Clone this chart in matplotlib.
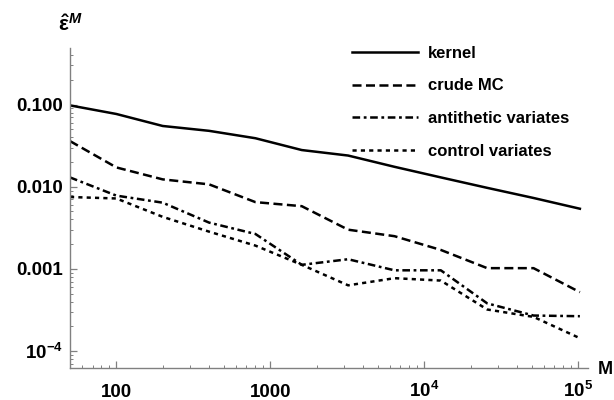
import matplotlib
matplotlib.use("Agg")
import matplotlib.pyplot as plt
import matplotlib.ticker as mticker
import numpy as np

plt.rcParams['font.family'] = ['Liberation Sans', 'DejaVu Sans']
plt.rcParams['font.weight'] = 'bold'
plt.rcParams['mathtext.fontset'] = 'custom'
plt.rcParams['mathtext.rm'] = 'Liberation Sans:bold'
plt.rcParams['mathtext.bf'] = 'Liberation Sans:bold'
plt.rcParams['mathtext.it'] = 'Liberation Sans:bold:italic'
plt.rcParams['lines.scale_dashes'] = False

# ---- data ----
M_values = [50, 100, 200, 400, 800, 1600, 3200, 6400, 12800, 25600, 51200, 102400]
kernel = [0.098, 0.077, 0.055, 0.048, 0.039, 0.028, 0.024, 0.0175, 0.013, 0.0097, 0.0073, 0.0054]
crude_mc = [0.036, 0.0172, 0.0123, 0.0107, 0.0065, 0.0058, 0.0030, 0.0025, 0.0017, 0.00102, 0.00102, 0.00052]
antithetic = [0.013, 0.0078, 0.0064, 0.00366, 0.00266, 0.00112, 0.00131, 0.00096, 0.00096, 0.00038, 0.00027, 0.000265]
control = [0.0075, 0.0072, 0.0043, 0.00284, 0.00192, 0.00112, 0.00063, 0.00077, 0.00072, 0.00032, 0.00026, 0.000143]
series_labels = ["kernel", "crude MC", "antithetic variates", "control variates"]
x_tick_vals = [100, 1000, 10000, 100000]
x_tick_labels = ["100", "1000", r"$\mathbf{10^{4}}$", r"$\mathbf{10^{5}}$"]
y_tick_vals = [1e-4, 1e-3, 1e-2, 1e-1]
y_tick_labels = [r"$\mathbf{10^{-4}}$", "0.001", "0.010", "0.100"]

fig = plt.figure(figsize=(6.14, 4.0), dpi=100)
ax = fig.add_axes([70/614, 1-368/400, (588-70)/614, (368-48)/400])

styles = [
    dict(linestyle='-'),
    dict(linestyle=(0, (6.5, 3.2))),
    dict(linestyle=(0, (5.5, 2.6, 2.0, 2.6))),
    dict(linestyle=(0, (3.0, 3.0))),
]
for ys, lab, st in zip([kernel, crude_mc, antithetic, control], series_labels, styles):
    ax.plot(M_values, ys, color='black', lw=1.8, label=lab, **st)

ax.set_xscale('log')
ax.set_yscale('log')
ax.set_xlim(50, 115600)
ax.set_ylim(6.2e-5, 0.49)

gray = '#808080'
for s in ['top', 'right']:
    ax.spines[s].set_visible(False)
for s in ['left', 'bottom']:
    ax.spines[s].set_color(gray)
    ax.spines[s].set_linewidth(1.0)

ax.xaxis.set_major_locator(mticker.FixedLocator(x_tick_vals))
ax.xaxis.set_major_formatter(mticker.FixedFormatter(x_tick_labels))
ax.xaxis.set_minor_locator(mticker.LogLocator(base=10, subs=np.arange(2, 10), numticks=20))
ax.xaxis.set_minor_formatter(mticker.NullFormatter())
ax.yaxis.set_major_locator(mticker.FixedLocator(y_tick_vals))
ax.yaxis.set_major_formatter(mticker.FixedFormatter(y_tick_labels))
ax.yaxis.set_minor_locator(mticker.LogLocator(base=10, subs=np.arange(2, 10), numticks=20))
ax.yaxis.set_minor_formatter(mticker.NullFormatter())

ax.tick_params(which='major', direction='in', length=5, width=0.9, color=gray, labelsize=13.5)
ax.tick_params(which='minor', direction='in', length=2.5, width=0.7, color=gray)
ax.tick_params(axis='y', which='major', pad=5)
ax.tick_params(axis='x', which='major', pad=21)
for lab in ax.get_xticklabels():
    lab.set_va('baseline')
    lab.set_fontweight('bold')
for lab in ax.get_yticklabels():
    lab.set_fontweight('bold')

leg = ax.legend(loc='upper left', bbox_to_anchor=(0.5246, 1.0375), frameon=False,
                prop=dict(weight='bold', size=12), handlelength=3.95, handletextpad=0.6,
                labelspacing=1.05, borderaxespad=0.2)

fig.text(58/614, 1-24/400, r"$\hat{\mathrm{\epsilon}}^{\mathit{M}}$", fontsize=15, va='center', ha='left')
fig.text(613/614, 1-369/400, "M", fontsize=13, fontweight='bold', va='center', ha='right')

fig.savefig("out.png", dpi=100)
